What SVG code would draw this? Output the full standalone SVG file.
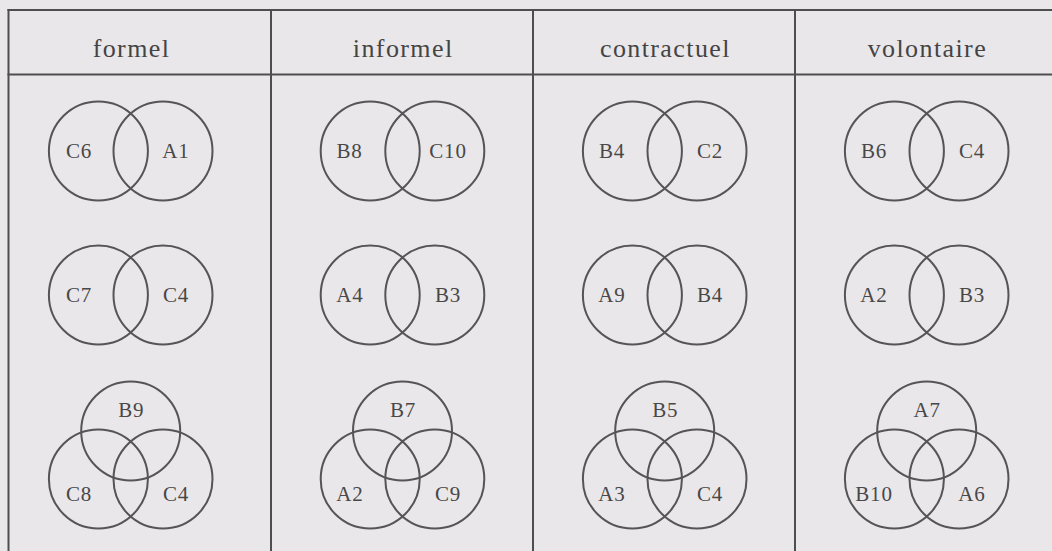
<svg xmlns="http://www.w3.org/2000/svg" width="1052" height="551" viewBox="0 0 1052 551">
<style>
.bg{fill:#eae7ea}
.grid line{stroke:#4e4e4e;stroke-width:2}
circle{fill:none;stroke:#555;stroke-width:2}
.h{font-family:"Liberation Serif",serif;font-size:26px;letter-spacing:1.4px;fill:#444;text-anchor:middle}
.l{font-family:"Liberation Serif",serif;font-size:21px;letter-spacing:0.8px;fill:#484848;text-anchor:middle}
</style>
<rect class="bg" x="0" y="0" width="1052" height="551"/>
<g id="grid" class="grid">
<line x1="7.5" y1="10" x2="1052" y2="10"/>
<line x1="7.5" y1="74.5" x2="1052" y2="74.5"/>
<line x1="8.5" y1="9" x2="8.5" y2="551"/>
<line x1="271" y1="9" x2="271" y2="551"/>
<line x1="533" y1="9" x2="533" y2="551"/>
<line x1="795" y1="9" x2="795" y2="551"/>
</g>
<g id="headers">
<text id="h-formel" class="h" x="131.5" y="57">formel</text>
<text id="h-informel" class="h" x="403.2" y="57">informel</text>
<text id="h-contractuel" class="h" x="665.4" y="57">contractuel</text>
<text id="h-volontaire" class="h" x="927.4" y="57">volontaire</text>
</g>
<!-- column 1 -->
<g id="formel-1"><circle cx="98.4" cy="151" r="49.5"/><circle cx="163" cy="151" r="49.5"/><text class="l" x="79" y="158.3">C6</text><text class="l" x="176" y="158.3">A1</text></g>
<g id="formel-2"><circle cx="98.4" cy="295" r="49.5"/><circle cx="163" cy="295" r="49.5"/><text class="l" x="79" y="301.7">C7</text><text class="l" x="176" y="301.7">C4</text></g>
<g id="formel-3"><circle cx="130.7" cy="431" r="49.5"/><circle cx="98.4" cy="479" r="49.5"/><circle cx="163" cy="479" r="49.5"/><text class="l" x="131.2" y="417">B9</text><text class="l" x="79" y="501">C8</text><text class="l" x="176" y="501">C4</text></g>
<!-- column 2 -->
<g id="informel-1"><circle cx="370.2" cy="151" r="49.5"/><circle cx="434.8" cy="151" r="49.5"/><text class="l" x="349.5" y="158.3">B8</text><text class="l" x="448" y="158.3">C10</text></g>
<g id="informel-2"><circle cx="370.2" cy="295" r="49.5"/><circle cx="434.8" cy="295" r="49.5"/><text class="l" x="350" y="301.7">A4</text><text class="l" x="448" y="301.7">B3</text></g>
<g id="informel-3"><circle cx="402.5" cy="431" r="49.5"/><circle cx="370.2" cy="479" r="49.5"/><circle cx="434.8" cy="479" r="49.5"/><text class="l" x="403" y="417">B7</text><text class="l" x="350" y="501">A2</text><text class="l" x="448" y="501">C9</text></g>
<!-- column 3 -->
<g id="contractuel-1"><circle cx="632.4" cy="151" r="49.5"/><circle cx="697" cy="151" r="49.5"/><text class="l" x="612" y="158.3">B4</text><text class="l" x="710" y="158.3">C2</text></g>
<g id="contractuel-2"><circle cx="632.4" cy="295" r="49.5"/><circle cx="697" cy="295" r="49.5"/><text class="l" x="612" y="301.7">A9</text><text class="l" x="710" y="301.7">B4</text></g>
<g id="contractuel-3"><circle cx="664.7" cy="431" r="49.5"/><circle cx="632.4" cy="479" r="49.5"/><circle cx="697" cy="479" r="49.5"/><text class="l" x="665.2" y="417">B5</text><text class="l" x="612" y="501">A3</text><text class="l" x="710" y="501">C4</text></g>
<!-- column 4 -->
<g id="volontaire-1"><circle cx="894.4" cy="151" r="49.5"/><circle cx="959" cy="151" r="49.5"/><text class="l" x="874" y="158.3">B6</text><text class="l" x="972" y="158.3">C4</text></g>
<g id="volontaire-2"><circle cx="894.4" cy="295" r="49.5"/><circle cx="959" cy="295" r="49.5"/><text class="l" x="874" y="301.7">A2</text><text class="l" x="972" y="301.7">B3</text></g>
<g id="volontaire-3"><circle cx="926.7" cy="431" r="49.5"/><circle cx="894.4" cy="479" r="49.5"/><circle cx="959" cy="479" r="49.5"/><text class="l" x="927.2" y="417">A7</text><text class="l" x="874" y="501">B10</text><text class="l" x="972" y="501">A6</text></g>
</svg>
